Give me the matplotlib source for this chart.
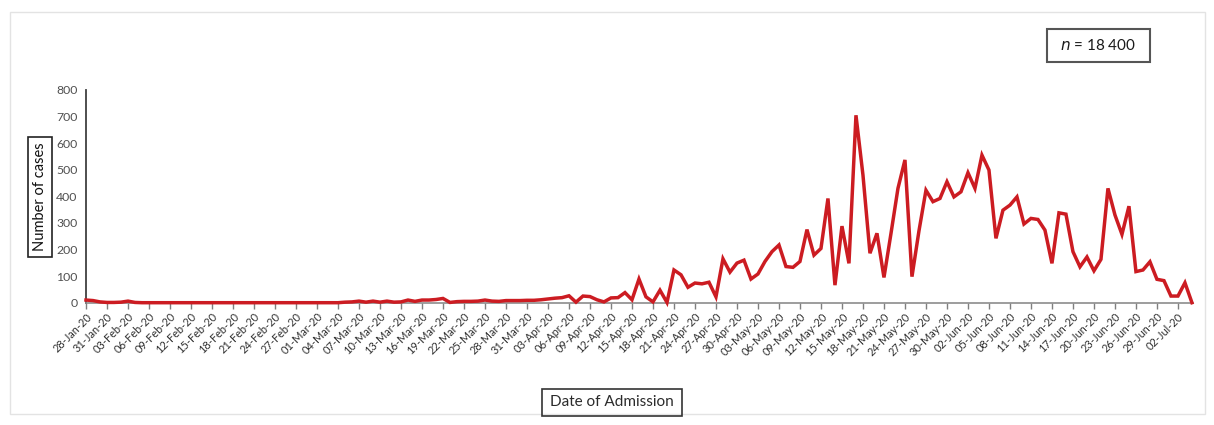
import matplotlib
matplotlib.use('Agg')
import matplotlib.pyplot as plt
import matplotlib.dates as mdates
from matplotlib.patches import Rectangle
import pandas as pd

plt.rcParams['font.family'] = ['Lato', 'DejaVu Sans']

# Daily admissions, 28 Jan 2020 to 04 Jul 2020
start_date = '2020-01-28'
cases_jan = [10, 8, 3, 1]
cases_feb = [1, 2, 6, 1] + [0] * 25
cases_mar = [0, 0, 0, 0,
             2, 3, 6, 2, 6, 2, 6, 2, 3, 10, 5, 10, 10, 12, 16,
             1, 4, 5, 5, 6, 10, 6, 5, 8, 8, 8, 9]
cases_apr = [9, 11, 14, 17, 19, 26,
             2, 25, 23, 11, 3, 18, 19, 38, 11, 89, 22, 3, 47, 1, 123, 105, 58, 74, 71, 77, 22,
             165, 115, 149]
cases_may = [160, 89, 108, 155, 192, 217, 136, 133, 155, 275, 179, 204, 392, 66, 288, 148,
             705, 480, 186, 261, 95, 260, 430, 537, 98, 270, 423, 380, 392, 455, 398]
cases_jun = [417, 489, 430, 555, 499,
             242, 348, 367, 398, 296, 317, 313, 273, 148, 338, 333, 192, 135, 172, 120,
             163, 430, 330, 257, 363, 117, 123, 154, 88, 83]
cases_jul = [25, 25, 75, 0]

cases = cases_jan + cases_feb + cases_mar + cases_apr + cases_may + cases_jun + cases_jul
dates = pd.date_range(start_date, periods=len(cases), freq='D')
y_ticks = list(range(0, 900, 100))
total_label = '18 400'

W, H = 1214, 425
fig = plt.figure(figsize=(W / 100, H / 100), dpi=100)
fig.patch.set_facecolor('white')


def fx(px):
    return px / W


def fy(py):
    return 1 - py / H


# light outer frame
fig.add_artist(Rectangle((fx(10), fy(414)), fx(1195) - fx(0), fy(12) - fy(414),
                         transform=fig.transFigure, fill=False, edgecolor='#e3e3e3', lw=1))

ax = fig.add_axes([fx(86), fy(302.7), fx(1193) - fx(86), fy(90) - fy(302.7)])
ax.plot(dates, cases, color='#cc1c22', lw=2.5, solid_joinstyle='miter', zorder=3, clip_on=False)

ax.set_xlim(dates[0], dates[0] + pd.Timedelta(days=158.15))
ax.set_ylim(0, 800)
ax.set_yticks(y_ticks)
ax.tick_params(axis='y', length=0, labelsize=8.8, labelcolor='#505050', pad=6)

xt = pd.date_range(dates[0], '2020-07-02', freq='3D')
ax.set_xticks(xt)
ax.xaxis.set_major_formatter(mdates.DateFormatter('%d-%b-%y'))
ax.tick_params(axis='x', length=4, width=1, color='#7f7f7f', direction='out',
               labelsize=7.9, labelcolor='#303030', pad=2)
for lbl in ax.get_xticklabels():
    lbl.set_rotation(45)
    lbl.set_ha('right')
    lbl.set_va('top')
    lbl.set_rotation_mode('anchor')

for s in ['top', 'right']:
    ax.spines[s].set_visible(False)
ax.spines['left'].set_color('#404040')
ax.spines['left'].set_linewidth(1.3)
ax.spines['bottom'].set_color('#8c8c8c')
ax.spines['bottom'].set_linewidth(1.2)

# y-axis title in a box
fig.add_artist(Rectangle((fx(28), fy(257)), fx(52) - fx(28), fy(137) - fy(257),
                         transform=fig.transFigure, fill=False, edgecolor='#222222', lw=1.2))
fig.text(fx(40.5), fy(197), 'Number of cases', rotation=90, ha='center', va='center',
         fontsize=10.5, color='#111111')

# x-axis title in a box
fig.add_artist(Rectangle((fx(542), fy(416)), fx(682) - fx(542), fy(389) - fy(416),
                         transform=fig.transFigure, fill=False, edgecolor='#333333', lw=1.2))
fig.text(fx(612), fy(402.5), 'Date of Admission', ha='center', va='center',
         fontsize=11, color='#2b2b2b')

# total count
fig.add_artist(Rectangle((fx(1047), fy(61.5)), fx(1150) - fx(1047), fy(29.5) - fy(61.5),
                         transform=fig.transFigure, fill=False, edgecolor='#555555', lw=1.5))
fig.text(fx(1098), fy(45.5), r'$\mathit{n}$ = ' + total_label, ha='center', va='center',
         fontsize=11, color='#1a1a1a')

fig.savefig('out.png', dpi=100, facecolor='white')
plt.close(fig)
